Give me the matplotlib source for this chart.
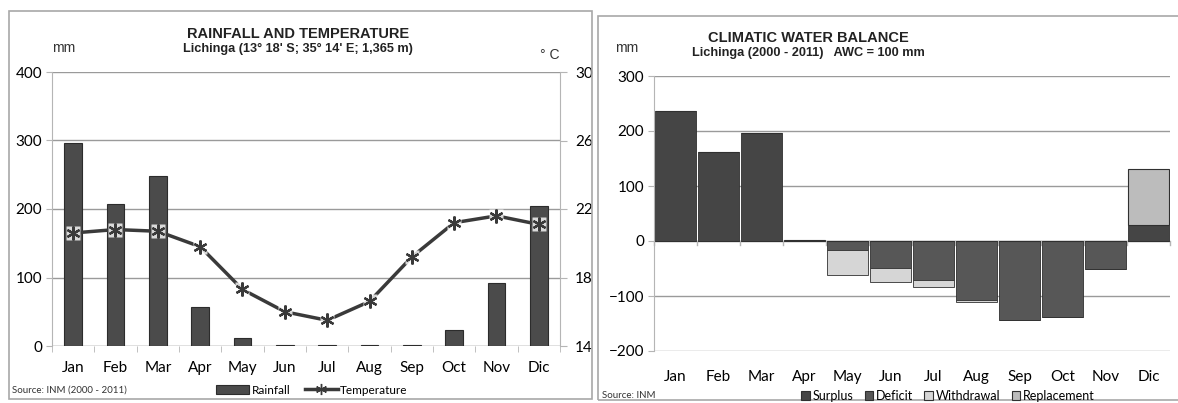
import numpy as np
import matplotlib
matplotlib.use("Agg")
import matplotlib.pyplot as plt
from matplotlib.patches import Patch, Rectangle
from matplotlib.lines import Line2D

months = ["Jan", "Feb", "Mar", "Apr", "May", "Jun", "Jul", "Aug", "Sep", "Oct", "Nov", "Dic"]

# Lichinga monthly means (INM 2000-2011)
rainfall = [296, 207, 248, 57, 12, 2, 2, 1, 1, 24, 92, 204]
temperature = [20.6, 20.8, 20.7, 19.8, 17.3, 16.0, 15.5, 16.6, 19.2, 21.2, 21.6, 21.1]

# climatic water balance, AWC = 100 mm
surplus = [236, 162, 197, 2, 0, 0, 0, 0, 0, 0, 0, 29]
deficit = [0, 0, 0, 0, 16, 49, 71, 107, 144, 138, 51, 0]
withdrawal = [0, 0, 0, 0, 46, 26, 13, 4, 0, 0, 0, 0]
replacement = [0, 0, 0, 0, 0, 0, 0, 0, 0, 0, 0, 102]

TICK_FONT = "Lato"
TITLE_FONT = "Liberation Sans"
GRID = "#9a9a9a"
AXLINE = "#b5b5b5"

fig = plt.figure(figsize=(11.78, 4.03), dpi=100)

# panel frames
fig.patches.append(Rectangle((9 / 1178, 1 - 399 / 403), 583 / 1178, 388 / 403,
                             transform=fig.transFigure, fill=False, ec="#a8a8a8", lw=1.2))
fig.patches.append(Rectangle((598 / 1178, 1 - 400 / 403), 590 / 1178, 384 / 403,
                             transform=fig.transFigure, fill=False, ec="#a8a8a8", lw=1.2))

x = np.arange(len(months))


def style_axis(ax, xpad):
    for s in ["top", "right", "bottom"]:
        ax.spines[s].set_visible(False)
    ax.spines["left"].set_color(AXLINE)
    ax.tick_params(axis="y", length=4, color=AXLINE, labelsize=11, pad=3)
    ax.tick_params(axis="x", which="major", length=0, labelsize=11, pad=xpad)
    ax.tick_params(axis="x", which="minor", length=4, color=AXLINE, direction="out")
    ax.set_xticks(x)
    ax.set_xticklabels(months, fontfamily=TICK_FONT)
    ax.set_xticks(np.arange(-0.5, len(months), 1), minor=True)
    ax.set_xlim(-0.5, len(months) - 0.5)
    ax.yaxis.grid(True, color=GRID, lw=1)
    ax.set_axisbelow(True)
    for lab in ax.get_yticklabels():
        lab.set_fontfamily(TICK_FONT)


# ---- rainfall and temperature ----
ax1 = fig.add_axes([52 / 1178, 1 - 346 / 403, 508 / 1178, 274 / 403])
ax1.bar(x, rainfall, width=0.42, color="#4b4b4b", edgecolor="#2c2c2c", lw=0.8, zorder=2)
ax1.set_ylim(0, 400)
ax1.set_yticks([0, 100, 200, 300, 400])
style_axis(ax1, 11)
ax1.axhline(0, color=AXLINE, lw=1, zorder=1)

ax2 = ax1.twinx()
ax2.set_ylim(14, 30)
ax2.set_yticks([14, 18, 22, 26, 30])
for s in ["top", "left", "bottom"]:
    ax2.spines[s].set_visible(False)
ax2.spines["right"].set_color(AXLINE)
ax2.tick_params(axis="y", length=5, color=AXLINE, labelsize=11, pad=6)
for lab in ax2.get_yticklabels():
    lab.set_fontfamily(TICK_FONT)
ax2.plot(x, temperature, color="#3a3a3a", lw=2.5, zorder=3)
ax2.plot(x, temperature, ls="none", marker="s", ms=10, mfc="white", mec="none", alpha=0.8, zorder=4)
ax2.plot(x, temperature, ls="none", marker=(6, 2, 0), ms=10, mec="#3a3a3a", mew=1.6, zorder=5)

fig.text(298 / 1178, 1 - 34 / 403, "RAINFALL AND TEMPERATURE", ha="center", va="center",
         fontsize=10.5, fontweight="bold", family=TITLE_FONT, color="#222222")
fig.text(298 / 1178, 1 - 49 / 403, "Lichinga (13° 18' S; 35° 14' E; 1,365 m)", ha="center",
         va="center", fontsize=9.2, fontweight="bold", family=TITLE_FONT, color="#222222")
fig.text(52 / 1178, 1 - 48 / 403, "mm", ha="left", va="center", fontsize=10,
         family=TITLE_FONT, color="#333333")
fig.text(540 / 1178, 1 - 55 / 403, "° C", ha="left", va="center", fontsize=10,
         family=TITLE_FONT, color="#333333")
fig.text(12 / 1178, 1 - 390 / 403, "Source: INM (2000 - 2011)", ha="left", va="center",
         fontsize=7, family=TICK_FONT, color="#333333")

handles1 = [Patch(fc="#4b4b4b", ec="#2c2c2c", lw=0.8),
            Line2D([], [], color="#3a3a3a", lw=2.5, marker=(6, 2, 0), ms=8, mec="#3a3a3a")]
fig.legend(handles1, ["Rainfall", "Temperature"], loc="center", ncol=2,
           bbox_to_anchor=(312 / 1178, 1 - 390 / 403), frameon=False,
           prop={"family": TICK_FONT, "size": 8.5}, handlelength=2.8, handleheight=0.7,
           handletextpad=0.2, columnspacing=1.2)

# ---- climatic water balance ----
ax3 = fig.add_axes([654 / 1178, 1 - 351 / 403, 516 / 1178, 275 / 403])
surplus = np.array(surplus)
deficit = np.array(deficit)
withdrawal = np.array(withdrawal)
replacement = np.array(replacement)
bw = 0.95
edge = "#303030"
c_surplus, c_deficit, c_withdraw, c_replace = "#454545", "#575757", "#d6d6d6", "#bcbcbc"
ax3.bar(x, surplus, width=bw, color=c_surplus, edgecolor=edge, lw=0.6, zorder=2)
ax3.bar(x, -deficit, width=bw, color=c_deficit, edgecolor=edge, lw=0.6, zorder=2)
ax3.bar(x, -withdrawal, bottom=-deficit, width=bw, color=c_withdraw, edgecolor=edge, lw=0.6, zorder=2)
ax3.bar(x, replacement, bottom=surplus, width=bw, color=c_replace, edgecolor=edge, lw=0.8, zorder=2)
ax3.set_ylim(-200, 300)
ax3.set_yticks([-200, -100, 0, 100, 200, 300])
style_axis(ax3, 14)
ax3.axhline(0, color=AXLINE, lw=1, zorder=1)
ax3.tick_params(axis="x", which="both", length=0)
# boundary ticks sit on the zero line
for b in np.arange(-0.5, len(months), 1):
    ax3.plot([b, b], [0, -7], color=AXLINE, lw=1, zorder=1, clip_on=False)

fig.text(808 / 1178, 1 - 38 / 403, "CLIMATIC WATER BALANCE", ha="center", va="center",
         fontsize=10.5, fontweight="bold", family=TITLE_FONT, color="#222222")
fig.text(808 / 1178, 1 - 53 / 403, "Lichinga (2000 - 2011)   AWC = 100 mm", ha="center",
         va="center", fontsize=9.2, fontweight="bold", family=TITLE_FONT, color="#222222")
fig.text(615 / 1178, 1 - 48 / 403, "mm", ha="left", va="center", fontsize=10,
         family=TITLE_FONT, color="#333333")
fig.text(602 / 1178, 1 - 396 / 403, "Source: INM", ha="left", va="center",
         fontsize=7, family=TICK_FONT, color="#333333")

handles2 = [Patch(fc=c, ec=edge, lw=0.8) for c in (c_surplus, c_deficit, c_withdraw, c_replace)]
fig.legend(handles2, ["Surplus", "Deficit", "Withdrawal", "Replacement"], loc="center", ncol=4,
           bbox_to_anchor=(948 / 1178, 1 - 396 / 403), frameon=False,
           prop={"family": TICK_FONT, "size": 9}, handlelength=0.7, handleheight=0.7,
           handletextpad=0.2, columnspacing=0.9)

fig.savefig("out.png", dpi=100)
